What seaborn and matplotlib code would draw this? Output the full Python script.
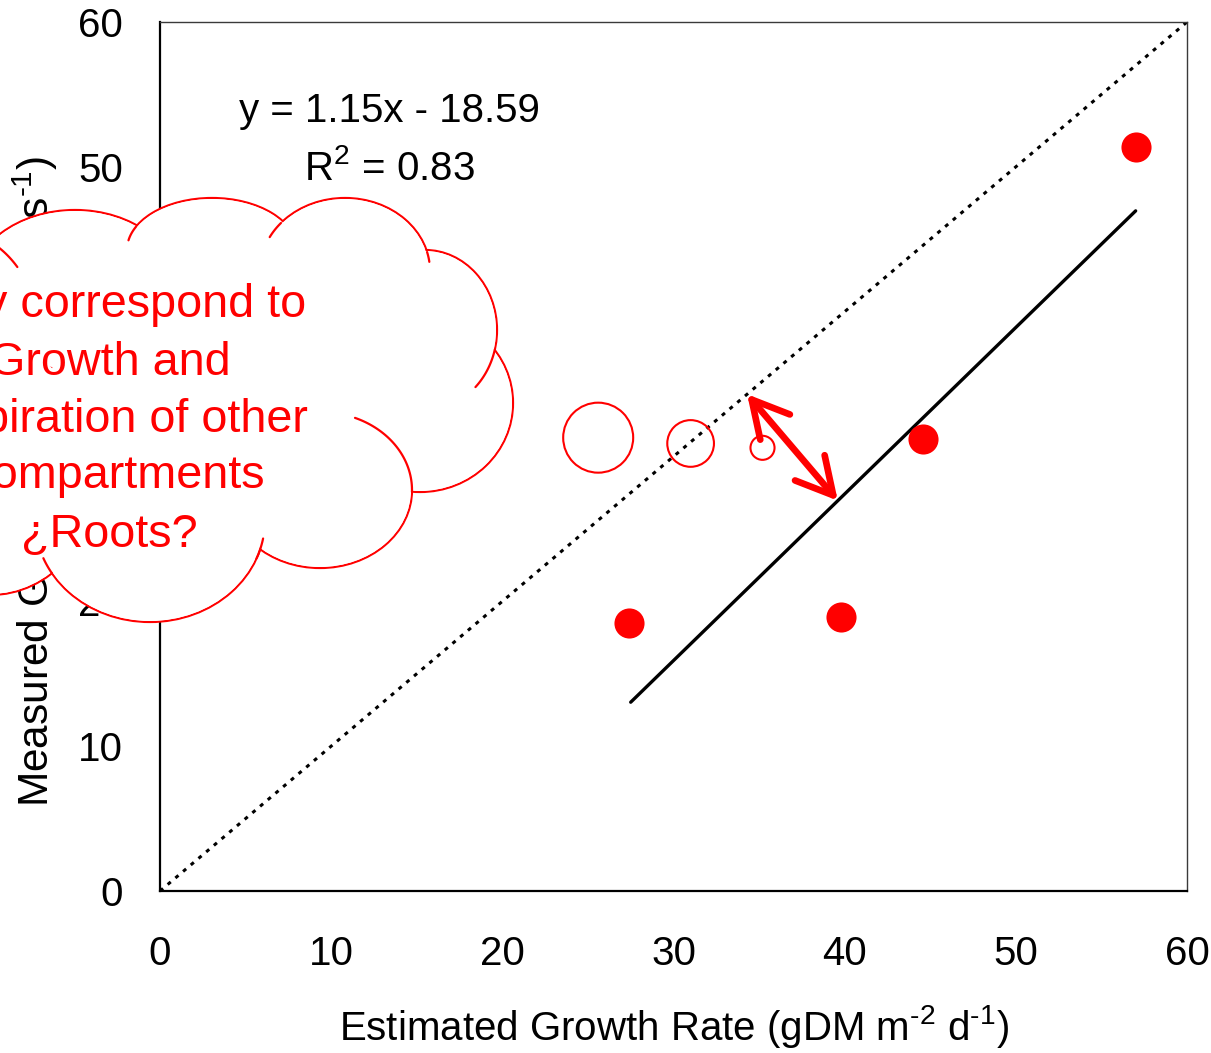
import numpy as np
import pandas as pd
import matplotlib
matplotlib.use("Agg")
import matplotlib.pyplot as plt
from matplotlib.patches import Ellipse
from matplotlib.lines import Line2D
import seaborn as sns

# ---- data ----
est_growth = [27.4, 39.8, 44.6, 57.0]          # Estimated Growth Rate
meas_gpp = [18.5, 18.9, 31.2, 51.4]            # Measured GPP
extra_x = [25.6, 31.0, 35.2]                   # points shifted by other compartments
extra_y = [31.3, 30.9, 30.6]
extra_label = ["large", "medium", "small"]
slope, intercept, r2 = 1.15, -18.59, 0.83
fit_range = [27.5, 57.0]
one_to_one = [0, 60]
offset_x_top, offset_x_bottom = 34.3, 39.6     # ends of the offset arrow
x_ticks = [0, 10, 20, 30, 40, 50, 60]
y_ticks = [0, 10, 20, 30, 40, 50, 60]
cloud_lines = ["May correspond to", "Growth and", "Respiration of other",
               "Compartments", "\u00bfRoots?"]

# ---- style ----
sns.set_theme(style="white")
plt.rcParams["font.family"] = ["Liberation Sans", "DejaVu Sans"]
plt.rcParams["mathtext.fontset"] = "custom"
plt.rcParams["mathtext.rm"] = "Liberation Sans"
plt.rcParams["mathtext.it"] = "Liberation Sans:italic"
plt.rcParams["mathtext.default"] = "regular"
for key in ["text.color", "axes.labelcolor", "xtick.color", "ytick.color"]:
    plt.rcParams[key] = "black"

W, H = 1211, 1053
fig = plt.figure(figsize=(W / 100, H / 100), dpi=100)
fig.patch.set_facecolor("white")
ax = fig.add_axes([160 / W, 1 - 891 / H, 1027 / W, 869 / H])
ax.set_facecolor("white")

# 1:1 line
sns.lineplot(x=one_to_one, y=one_to_one, ax=ax, color="black", lw=2.2,
             linestyle=(0, (1.3, 2.0)), zorder=2)

# regression line
fx = np.array(fit_range)
sns.lineplot(x=fx, y=slope * fx + intercept, ax=ax, color="black", lw=2.4,
             zorder=3)

# measured points
sns.scatterplot(x=est_growth, y=meas_gpp, ax=ax, color="red", s=470,
                linewidth=0, zorder=4)

# open circles
bubble_area = {"large": 2540, "medium": 1130, "small": 300}
sns.scatterplot(x=extra_x, y=extra_y, size=extra_label, sizes=bubble_area,
                ax=ax, facecolors="none", edgecolor="red", linewidth=1.5,
                legend=False, zorder=4)

# offset arrow between the 1:1 line and the regression line
ax.annotate("", xy=(offset_x_top, offset_x_top),
            xytext=(offset_x_bottom, slope * offset_x_bottom + intercept),
            arrowprops=dict(arrowstyle="<->,head_length=1.3,head_width=0.7",
                            color="red", lw=4.8, shrinkA=0, shrinkB=0,
                            mutation_scale=20, capstyle="round",
                            joinstyle="round"),
            zorder=5)

# regression equation
ax.text(13.38, 53.1, f"y = {slope:.2f}x - {abs(intercept):.2f}", fontsize=29,
        ha="center", va="baseline")
ax.text(13.38, 49.1, f"R$^2$ = {r2:.2f}", fontsize=29, ha="center",
        va="baseline")

# axes
ax.set_xlim(0, 60)
ax.set_ylim(0, 60)
ax.set_xticks(x_ticks)
ax.set_yticks(y_ticks)
ax.tick_params(axis="both", direction="out", length=9.5, width=1.5,
               labelsize=29, colors="black")
ax.tick_params(axis="x", pad=22)
ax.tick_params(axis="y", pad=17)
for side in ["left", "bottom"]:
    ax.spines[side].set_color("black")
    ax.spines[side].set_linewidth(1.6)
for side in ["top", "right"]:
    ax.spines[side].set_color("#3a3a3a")
    ax.spines[side].set_linewidth(1.0)
ax.set_xlabel(r"Estimated Growth Rate (gDM m$^{\text{-}2}$ d$^{\text{-}1}$)",
              fontsize=29, labelpad=22)
ax.set_ylabel(r"Measured GPP (µmol CO$_2$ m$^{\text{-}2}$ s$^{\text{-}1}$)",
              fontsize=30.5)
ax.yaxis.set_label_coords(-0.0974, 0.4707)

# ---- thought cloud (figure pixel units, y measured downward) ----
def px(x, y):
    return x / 100, (H - y) / 100

lobes = [  # cx, cy, a, b
    (75, 290, 105, 80),
    (212, 250, 85, 52),
    (345, 271, 85, 73),
    (425, 330, 72, 80),
    (420, 403, 93, 89),
    (320, 490, 92, 78),
    (150, 520, 115, 102),
    (-10, 470, 110, 125),
    (-50, 340, 90, 110),
]
tr = fig.dpi_scale_trans
for cx, cy, a, b in lobes:
    fig.add_artist(Ellipse(px(cx, cy), 2 * a / 100, 2 * b / 100, transform=tr,
                           facecolor="white", edgecolor="red", lw=1.6,
                           zorder=5))
for cx, cy, a, b in lobes:
    fig.add_artist(Ellipse(px(cx, cy), 2 * (a - 1) / 100, 2 * (b - 1) / 100,
                           transform=tr, facecolor="white", edgecolor="none",
                           zorder=6))
fig.add_artist(Ellipse(px(250, 390), 400 / 100, 300 / 100, transform=tr,
                       facecolor="white", edgecolor="none", zorder=6))

tails = [
    (1, (147, 230), (143, 242)),
    (2, (277, 220), (265, 235)),
    (2, (427, 252), (428, 262)),
    (3, (488, 348), (463, 373)),
    (5, (412, 492), (353, 422)),
    (6, (255, 558), (260, 538)),
    (6, (43, 578), (30, 563)),
    (8, (0, 243), (22, 262)),
]
for i, p0, p1 in tails:
    cx, cy, a, b = lobes[i]
    t0 = np.arctan2((p0[1] - cy) / b, (p0[0] - cx) / a)
    t1 = np.arctan2((p1[1] - cy) / b, (p1[0] - cx) / a)
    d = (t1 - t0 + np.pi) % (2 * np.pi) - np.pi
    t = np.linspace(t0, t0 + d, 40)
    xs = cx + a * np.cos(t)
    ys = cy + b * np.sin(t)
    xi, yi = px(xs, ys)
    fig.add_artist(Line2D(xi, yi, transform=tr, color="red", lw=1.6,
                          zorder=7))

right_edges = [306, 231, 308, 265, 198]
baselines = [317, 375, 432, 488, 547]
for line, xr, yb in zip(cloud_lines, right_edges, baselines):
    fig.text(xr / W, 1 - yb / H, line, color="red", fontsize=33.7,
             ha="right", va="baseline", zorder=8)

fig.savefig("out.png", dpi=100, facecolor="white")
